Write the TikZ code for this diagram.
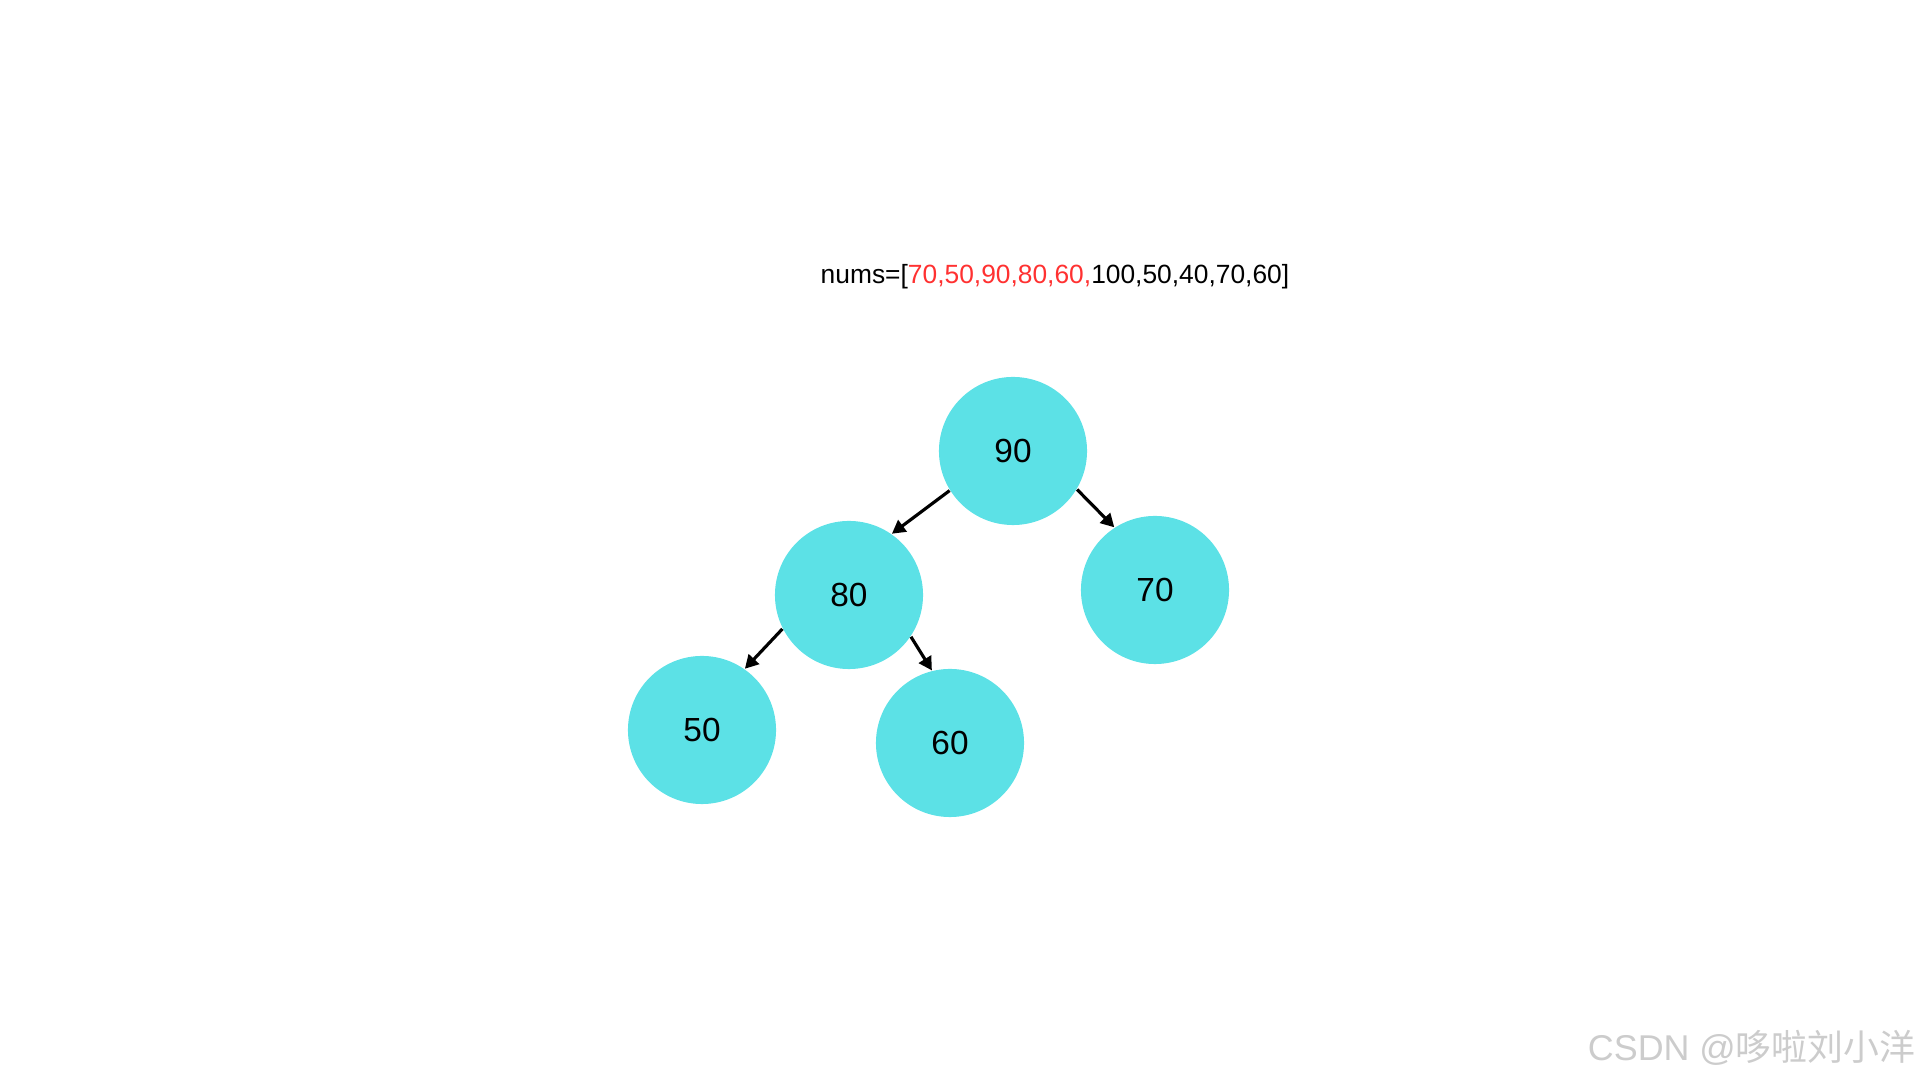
\documentclass[tikz,border=0pt]{standalone}
\usepackage{fontspec}
\setmainfont{Liberation Sans}
\newfontfamily\cjk{Noto Sans CJK SC}
\usetikzlibrary{arrows.meta}
\definecolor{nodecyan}{HTML}{5CE1E6}
\definecolor{numred}{HTML}{FF3131}
\begin{document}
\begin{tikzpicture}[
    x=0.01cm, y=-0.01cm,
    every node/.style={inner sep=0pt},
    heapnode/.style={circle, fill=nodecyan, minimum size=1.48cm, font=\fontsize{9.5}{11}\selectfont},
    heaparrow/.style={line width=0.9pt, -{Triangle[length=3.8pt, width=4pt]}}
]

\useasboundingbox (0,0) rectangle (1920,1080);

% ================= array =================

\node[anchor=west, font=\fontsize{7.5}{9}\selectfont] (arr) at (820,277)
{nums=[\textcolor{numred}{70,50,90,80,60,}100,50,40,70,60]};

% ================= heap =================

\node[heapnode] (n90) at (1013,451) {90};
\node[heapnode] (n80) at (849,595) {80};
\node[heapnode] (n70) at (1155,590) {70};
\node[heapnode] (n50) at (702,730) {50};
\node[heapnode] (n60) at (950,743) {60};

\draw[heaparrow] (n90.212) -- (n80.55);
\draw[heaparrow] (n90.329) -- (n70.123);
\draw[heaparrow] (n80.207) -- (n50.55);
\draw[heaparrow] (n80.326) -- (n60.104);

% watermark
\node[anchor=east, text=black!20, font=\fontsize{10.2}{12}\selectfont] (mark) at (1916,1048)
{CSDN @{\cjk 哆啦刘小洋}};

\end{tikzpicture}
\end{document}
